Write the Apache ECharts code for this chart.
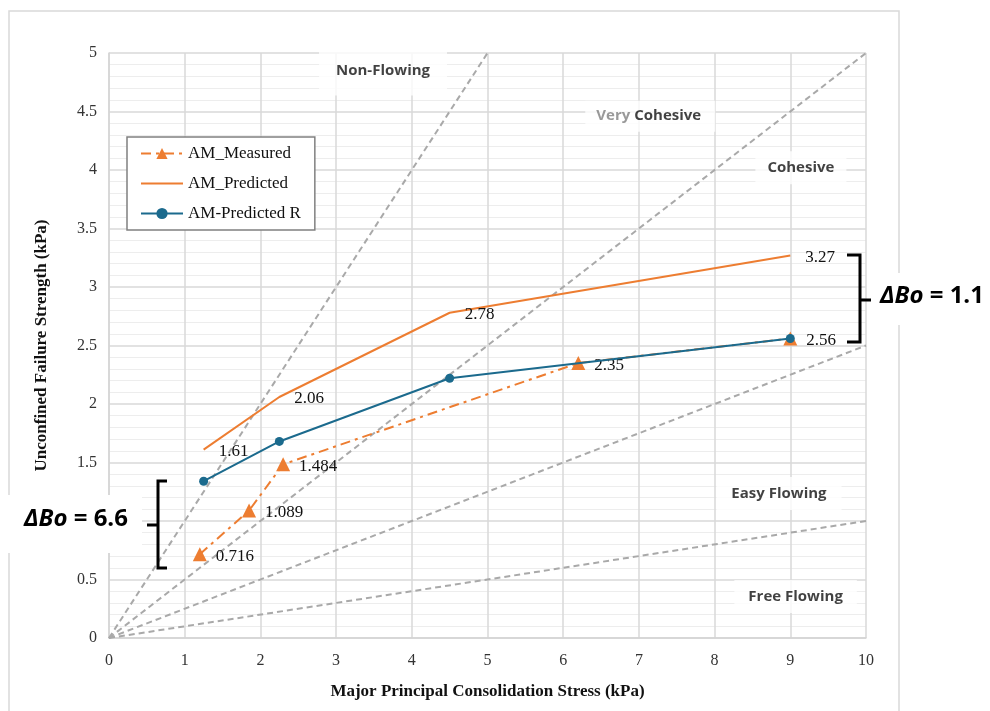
<!DOCTYPE html>
<html>
<head>
<meta charset="utf-8">
<script src="https://cdn.jsdelivr.net/npm/echarts@6/dist/echarts.min.js"></script>
<style>
  html, body { margin: 0; padding: 0; background: #fff; }
  #chart { width: 990px; height: 711px; }
</style>
</head>
<body>
<div id="chart"></div>
<script>
// Consolidation stress (kPa) for each test series
const measuredX = [1.2, 1.85, 2.3, 6.2, 9];
const measuredY = [0.716, 1.089, 1.484, 2.35, 2.56];

const predictedX = [1.25, 2.25, 4.5, 9];
const predictedY = [1.61, 2.06, 2.78, 3.27];

const predictedRX = [1.25, 2.25, 4.5, 9];
const predictedRY = [1.34, 1.68, 2.22, 2.56];

// Flow-function boundary lines (start and end points)
const ffLines = [
  [[0, 0], [5, 5]],
  [[0, 0], [10, 5]],
  [[0, 0], [10, 2.5]],
  [[0, 0], [10, 1]]
];

// Flowability region captions and their positions in data units
const regionNames = ['Non-Flowing', '{g|Very}{b|Cohesive}', 'Cohesive', 'Easy Flowing', 'Free Flowing'];
const regionX = [3.62, 7.15, 9.14, 8.85, 9.07];
const regionY = [4.83, 4.46, 4.02, 1.235, 0.355];
const regionPad = [[13, 17, 17, 17], [8, 14, 8, 11], [9, 12, 9, 12], [9, 15, 9, 15], [9, 14, 9, 14]];

const xTicks = { min: 0, max: 10, interval: 1 };
const yTicks = { min: 0, max: 5, interval: 0.5 };

const ORANGE = '#ED7D31';
const BLUE = '#1B6A8D';
const SERIF = '"Liberation Serif", "Times New Roman", serif';
const SANS = '"Open Sans", "Noto Sans", sans-serif';

const zip = (xs, ys) => xs.map((x, i) => [x, ys[i]]);

const chart = echarts.init(document.getElementById('chart'), null, { renderer: 'canvas' });

const series = [];

ffLines.forEach((pts, i) => {
  series.push({
    name: 'ff' + i,
    type: 'line',
    data: pts,
    symbol: 'none',
    silent: true,
    lineStyle: { color: '#a9a9a9', width: 2, type: [6, 4] },
    z: 1
  });
});

series.push({
  name: 'regions',
  type: 'scatter',
  data: regionNames.map((n, i) => ({
    value: [regionX[i], regionY[i]],
    label: { formatter: n, padding: regionPad[i] }
  })),
  symbolSize: 0,
  silent: true,
  z: 2,
  label: {
    show: true,
    position: 'inside',
    backgroundColor: '#ffffff',
    fontFamily: SANS,
    fontWeight: 'bold',
    fontSize: 15,
    color: '#111',
    rich: {
      g: { fontFamily: SANS, fontWeight: 'bold', fontSize: 15, color: '#7f7f7f', padding: [0, 4, 0, 0] },
      b: { fontFamily: SANS, fontWeight: 'bold', fontSize: 15, color: '#111' }
    }
  }
});

const dataLabel = {
  show: true,
  position: 'right',
  fontFamily: SERIF,
  fontSize: 17,
  color: '#111'
};

series.push({
  name: 'AM_Measured',
  type: 'line',
  data: zip(measuredX, measuredY),
  symbol: 'triangle',
  symbolSize: 14,
  color: ORANGE,
  itemStyle: { color: ORANGE },
  lineStyle: { color: ORANGE, width: 2, type: [10, 5, 3, 5] },
  label: Object.assign({}, dataLabel, { distance: 9, offset: [0, 2] }),
  z: 3
});

series.push({
  name: 'AM_Predicted',
  type: 'line',
  data: zip(predictedX, predictedY),
  symbol: 'circle',
  symbolSize: 0,
  color: ORANGE,
  itemStyle: { color: ORANGE },
  lineStyle: { color: ORANGE, width: 2 },
  label: Object.assign({}, dataLabel, { distance: 15, offset: [0, 2] }),
  z: 4
});

series.push({
  name: 'AM-Predicted R',
  type: 'line',
  data: zip(predictedRX, predictedRY),
  symbol: 'circle',
  symbolSize: 9,
  color: BLUE,
  itemStyle: { color: BLUE },
  lineStyle: { color: BLUE, width: 2 },
  z: 5
});

const boRich = {
  i: { fontFamily: SANS, fontWeight: 'bold', fontStyle: 'italic', fontSize: 24, fill: '#000' },
  b: { fontFamily: SANS, fontWeight: 'bold', fontSize: 24, fill: '#000' }
};

const option = {
  animation: false,
  backgroundColor: '#ffffff',
  grid: { left: 109, right: 124, top: 53, bottom: 73, containLabel: false },
  xAxis: {
    type: 'value',
    min: xTicks.min, max: xTicks.max, interval: xTicks.interval,
    name: 'Major Principal Consolidation Stress (kPa)',
    nameLocation: 'middle',
    nameGap: 45,
    nameTextStyle: { fontFamily: SERIF, fontWeight: 'bold', fontSize: 17, color: '#111' },
    axisLine: { show: true, lineStyle: { color: '#d4d4d4', width: 1.5 } },
    axisTick: { show: false },
    axisLabel: { fontFamily: SERIF, fontSize: 16, color: '#333', margin: 15 },
    splitLine: { show: true, lineStyle: { color: '#d9d9d9', width: 1.5 } }
  },
  yAxis: {
    type: 'value',
    min: yTicks.min, max: yTicks.max, interval: yTicks.interval,
    name: 'Unconfined Failure Strength (kPa)',
    nameLocation: 'middle',
    nameGap: 59,
    nameRotate: 90,
    nameTextStyle: { fontFamily: SERIF, fontWeight: 'bold', fontSize: 17, color: '#111' },
    axisLine: { show: true, lineStyle: { color: '#d4d4d4', width: 1.5 } },
    axisTick: { show: false },
    axisLabel: { fontFamily: SERIF, fontSize: 16, color: '#333', margin: 12 },
    splitLine: { show: true, lineStyle: { color: '#d9d9d9', width: 1.5 } },
    minorTick: { show: false, splitNumber: 5 },
    minorSplitLine: { show: true, lineStyle: { color: '#ededed', width: 1 } }
  },
  legend: {
    data: [
      'AM_Measured',
      { name: 'AM_Predicted', itemStyle: { opacity: 0 } },
      'AM-Predicted R'
    ],
    orient: 'vertical',
    left: 127,
    top: 137,
    itemWidth: 42,
    itemHeight: 14,
    itemGap: 13,
    padding: [8, 14, 8, 13],
    backgroundColor: '#ffffff',
    borderColor: '#808080',
    borderWidth: 1.5,
    borderRadius: 0,
    textStyle: { fontFamily: SERIF, fontSize: 17, color: '#111' }
  },
  graphic: [
    {
      type: 'rect', z: 0, silent: true,
      shape: { x: 9, y: 11, width: 890, height: 720 },
      style: { fill: 'none', stroke: '#d9d9d9', lineWidth: 1.5 }
    },
    // bracket spanning the low-stress spread
    {
      type: 'polyline', z: 100, silent: true,
      shape: { points: [[167, 481], [158, 481], [158, 568], [167, 568]] },
      style: { fill: 'none', stroke: '#000', lineWidth: 3 }
    },
    {
      type: 'line', z: 100, silent: true,
      shape: { x1: 147, y1: 525, x2: 158, y2: 525 },
      style: { stroke: '#000', lineWidth: 3 }
    },
    // bracket spanning the high-stress spread
    {
      type: 'polyline', z: 100, silent: true,
      shape: { points: [[847, 255], [860, 255], [860, 342], [847, 342]] },
      style: { fill: 'none', stroke: '#000', lineWidth: 3 }
    },
    {
      type: 'line', z: 100, silent: true,
      shape: { x1: 860, y1: 300, x2: 871, y2: 300 },
      style: { stroke: '#000', lineWidth: 3 }
    },
    {
      type: 'rect', z: 100, silent: true,
      shape: { x: 0, y: 495, width: 142, height: 58 },
      style: { fill: '#ffffff' }
    },
    {
      type: 'text', z: 101, silent: true,
      left: 24, top: 507,
      style: { text: '{i|ΔBo}{b| = 6.6}', rich: boRich }
    },
    {
      type: 'rect', z: 100, silent: true,
      shape: { x: 873, y: 273, width: 117, height: 52 },
      style: { fill: '#ffffff' }
    },
    {
      type: 'text', z: 101, silent: true,
      left: 880, top: 284,
      style: { text: '{i|ΔBo}{b| = 1.1}', rich: boRich }
    }
  ],
  series: series
};

chart.setOption(option);
</script>
</body>
</html>
